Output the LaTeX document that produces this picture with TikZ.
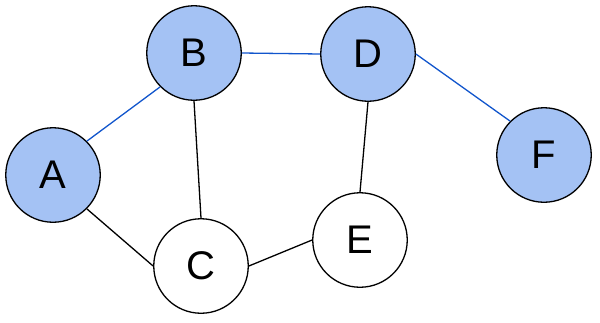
\documentclass[tikz,border=0pt]{standalone}
\usepackage{fontspec}
\setmainfont{Liberation Sans}
\definecolor{nodeblue}{HTML}{A4C2F4}
\definecolor{edgeblue}{HTML}{1155CC}
\begin{document}
\begin{tikzpicture}[x=1pt,y=-1pt,
  vert/.style={circle,draw=black,line width=1.3pt,minimum size=94.5pt,inner sep=0pt,font=\fontsize{40}{40}\selectfont},
  bluev/.style={vert,fill=nodeblue},
  whitev/.style={vert,fill=white},
  bedge/.style={draw=edgeblue,line width=1.3pt},
  kedge/.style={draw=black,line width=1.3pt}]
\useasboundingbox (0,0) rectangle (600,322);
\node[bluev] (A) at (53,175) {A};
\node[bluev] (B) at (194,53) {B};
\node[whitev] (C) at (201,266) {C};
\node[bluev] (D) at (368,54) {D};
\node[whitev] (E) at (360,240) {E};
\node[bluev] (F) at (544,155) {F};
\draw[bedge] (A.north east) -- (B.south west);
\draw[bedge] (B.east) -- (D.west);
\draw[bedge] (D.east) -- (F.north west);
\draw[kedge] (A.south east) -- (C.west);
\draw[kedge] (B.south) -- (C.north);
\draw[kedge] (D.south) -- (E.north);
\draw[kedge] (C.east) -- (E.west);
\end{tikzpicture}
\end{document}
